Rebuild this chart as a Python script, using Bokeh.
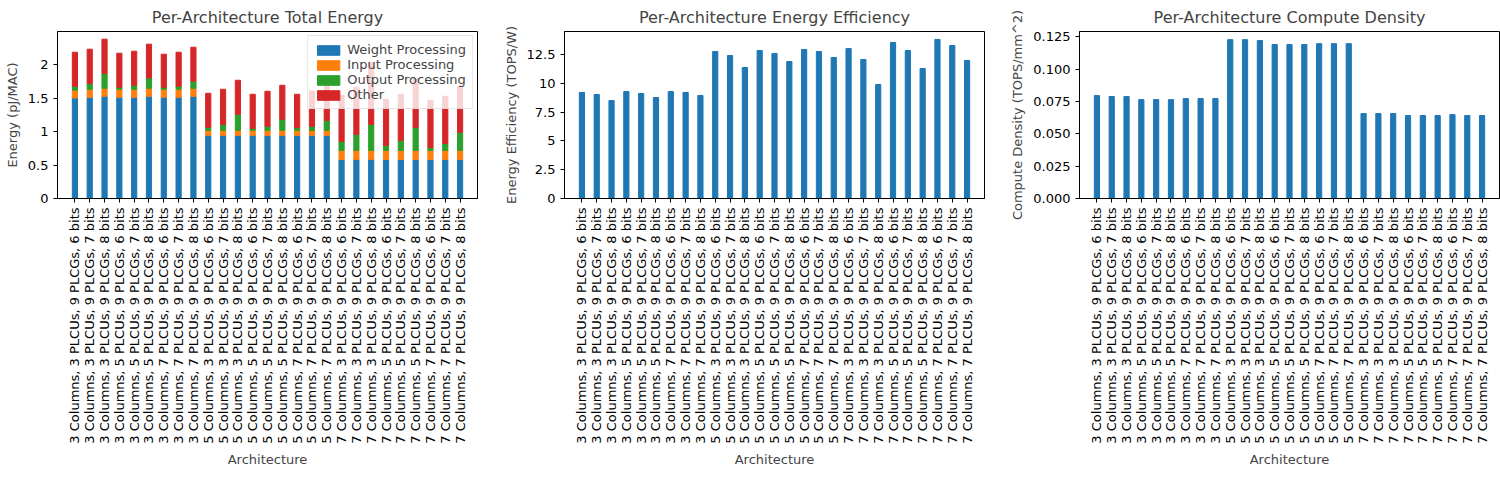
import math
from bokeh.plotting import figure
from bokeh.layouts import row
from bokeh.models import ColumnDataSource, Legend, LegendItem, Label
from bokeh.embed import file_html
from bokeh.resources import INLINE

cols = ["3", "5", "7"]
plcus = ["3", "5", "7"]
bits = ["6", "7", "8"]
archs = [f"{c} Columns, {u} PLCUs, 9 PLCGs, {b} bits" for c in cols for u in plcus for b in bits]

blue_top = [1.505, 1.515, 1.53, 1.515, 1.515, 1.53, 1.515, 1.515, 1.53] + [0.945] * 9 + [0.585] * 9
orange_top = [1.62, 1.635, 1.65, 1.635, 1.635, 1.65, 1.635, 1.635, 1.65] + [1.02] * 9 + [0.72] * 9
green_top = [1.68, 1.72, 1.87, 1.665, 1.695, 1.805, 1.665, 1.68, 1.755,
             1.065, 1.11, 1.26, 1.05, 1.08, 1.185, 1.06, 1.08, 1.17,
             0.855, 0.96, 1.11, 0.795, 0.87, 1.065, 0.765, 0.825, 0.99]
red_top = [2.19, 2.235, 2.385, 2.175, 2.205, 2.31, 2.16, 2.19, 2.265,
           1.575, 1.635, 1.77, 1.56, 1.605, 1.695, 1.56, 1.61, 1.71,
           1.545, 1.665, 2.035, 1.485, 1.56, 1.8, 1.47, 1.53, 1.68]

efficiency = [9.22, 9.04, 8.52, 9.30, 9.13, 8.78, 9.30, 9.22, 8.96,
              12.78, 12.43, 11.39, 12.87, 12.61, 11.91, 12.96, 12.78, 12.26,
              13.04, 12.09, 9.91, 13.57, 12.87, 11.30, 13.83, 13.30, 12.00]
density = [0.0796, 0.0789, 0.0789, 0.0765, 0.0765, 0.0765, 0.0773, 0.0773, 0.0773,
           0.1229, 0.1229, 0.1222, 0.1191, 0.1191, 0.1191, 0.1198, 0.1198, 0.1198,
           0.0657, 0.0657, 0.0657, 0.0642, 0.0642, 0.0642, 0.0649, 0.0642, 0.0642]

BLUE, ORANGE, GREEN, RED = "#1f77b4", "#ff7f0e", "#2ca02c", "#d62728"
FONT = "DejaVu Sans"


def make_fig(title, ylabel, ymax):
    p = figure(x_range=archs, y_range=(0, ymax), frame_width=420, frame_height=167,
               min_border_left=57, min_border_right=23, min_border_top=29, min_border_bottom=5,
               output_backend="svg", toolbar_location=None, title=title)
    p.title.align = "center"
    p.title.text_font = FONT
    p.title.text_font_size = "16px"
    p.title.text_font_style = "normal"
    p.xgrid.visible = False
    p.ygrid.visible = False
    p.outline_line_color = "black"
    p.xaxis.major_label_orientation = math.pi / 2
    p.xaxis.axis_label = "Architecture"
    p.yaxis.axis_label = ylabel
    for ax in (p.xaxis[0], p.yaxis[0]):
        ax.axis_label_text_font = FONT
        ax.axis_label_text_font_size = "13px"
        ax.axis_label_text_font_style = "normal"
        ax.major_label_text_font = FONT
        ax.major_label_text_font_size = "13px"
        ax.major_label_text_color = "black"
        ax.minor_tick_line_color = None
        ax.major_tick_out = 4
        ax.major_tick_in = 0
    p.x_range.range_padding = 0.05
    return p


p1 = make_fig("Per-Architecture Total Energy", "Energy (pJ/MAC)", 2.5)
p1.yaxis.ticker = [0, 0.5, 1.0, 1.5, 2.0]
p1.y_range.end = 2.5
src = ColumnDataSource(dict(x=archs, b0=[0] * 27, b1=blue_top, b2=orange_top, b3=green_top, b4=red_top))
r1 = p1.vbar(x="x", bottom="b0", top="b1", width=0.35, color=BLUE, source=src)
r2 = p1.vbar(x="x", bottom="b1", top="b2", width=0.35, color=ORANGE, source=src)
r3 = p1.vbar(x="x", bottom="b2", top="b3", width=0.35, color=GREEN, source=src)
r4 = p1.vbar(x="x", bottom="b3", top="b4", width=0.35, color=RED, source=src)
leg = Legend(items=[LegendItem(label="Weight Processing", renderers=[r1]),
                    LegendItem(label="Input Processing", renderers=[r2]),
                    LegendItem(label="Output Processing", renderers=[r3]),
                    LegendItem(label="Other", renderers=[r4])],
             location="top_right", label_text_font=FONT, label_text_font_size="13px",
             background_fill_alpha=0.8, border_line_color="#cccccc", spacing=0,
             glyph_width=28, glyph_height=12, padding=6, margin=4)
p1.add_layout(leg)
p1.add_layout(Label(x=0, y=0, x_units="screen", y_units="screen", x_offset=-20, y_offset=170,
                    text="1e\u221213", text_font=FONT, text_font_size="13px"))

p2 = make_fig("Per-Architecture Energy Efficiency", "Energy Efficiency (TOPS/W)", 14.52)
p2.yaxis.ticker = [0, 2.5, 5, 7.5, 10, 12.5]
p2.vbar(x=archs, top=efficiency, width=0.35, color=BLUE)

p3 = make_fig("Per-Architecture Compute Density", "Compute Density (TOPS/mm^2)", 0.1292)
p3.yaxis.ticker = [0, 0.025, 0.05, 0.075, 0.1, 0.125]
p3.yaxis.formatter.use_scientific = False
from bokeh.models import CustomJSTickFormatter
p3.yaxis.formatter = CustomJSTickFormatter(code="return tick.toFixed(3);")
p3.vbar(x=archs, top=density, width=0.35, color=BLUE)

layout = row(p1, p2, p3)
open("out.html", "w").write(file_html(layout, INLINE))
